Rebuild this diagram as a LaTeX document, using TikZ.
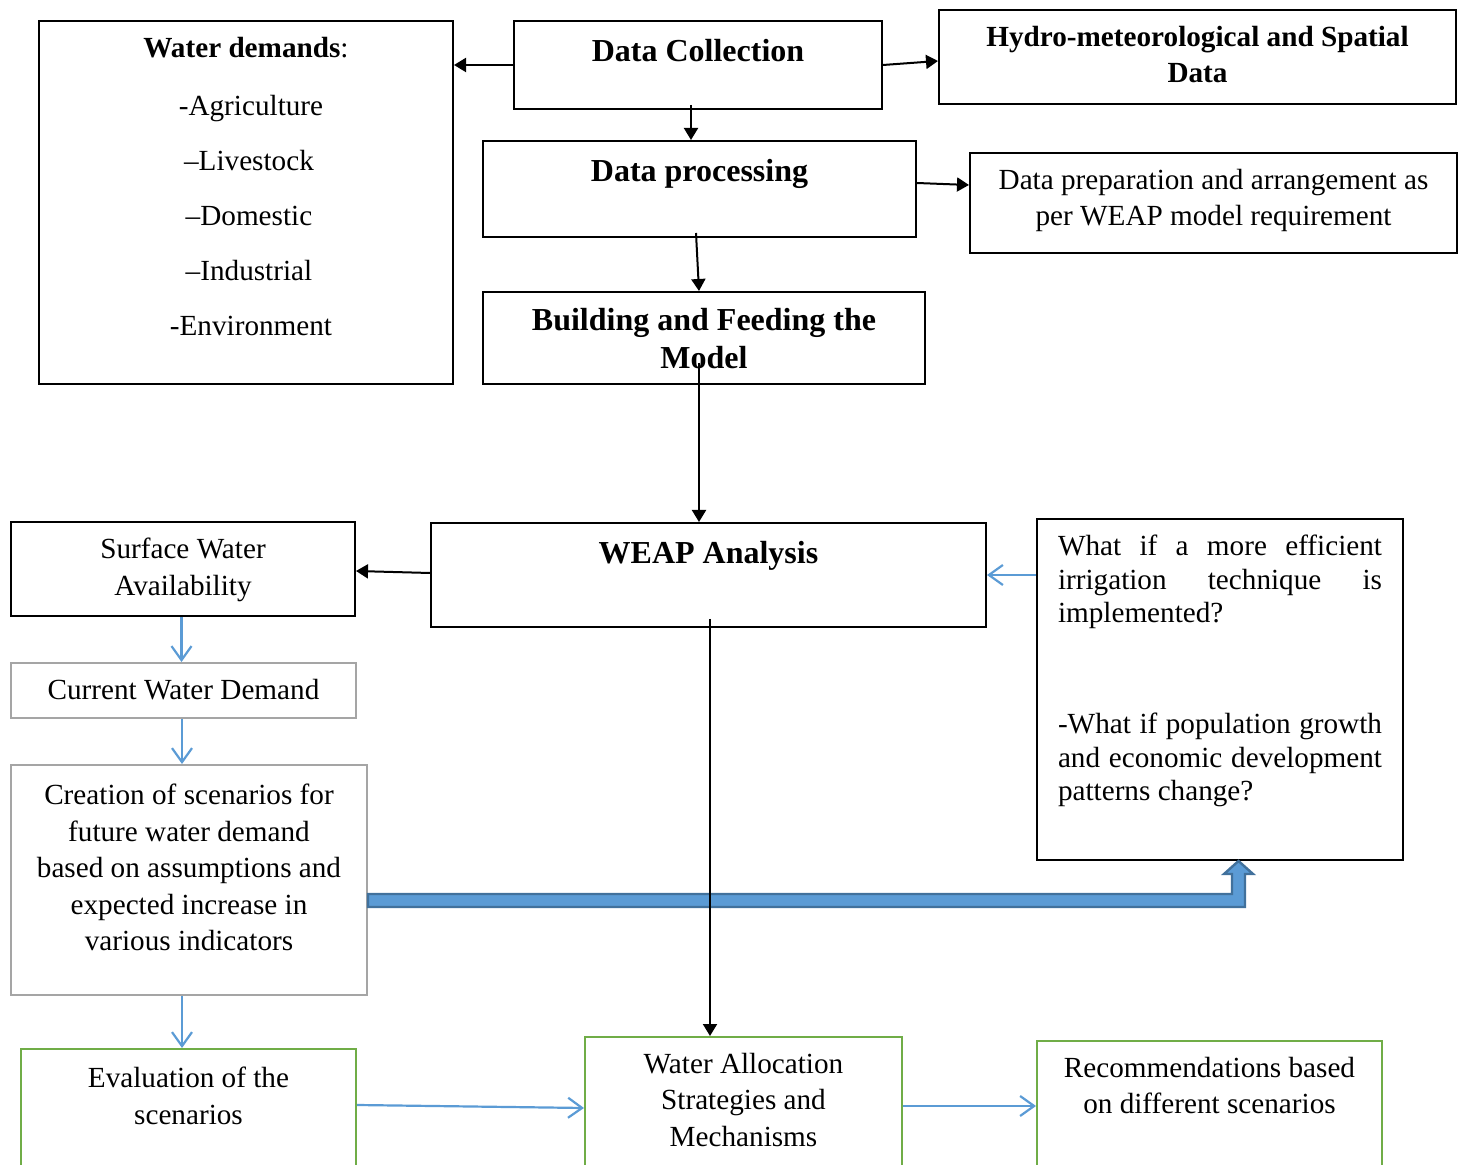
\documentclass[tikz,border=0pt]{standalone}
\usepackage{fontspec}
\setmainfont{Liberation Serif}
\usepackage{xcolor}
\usepackage{tikz}
\usetikzlibrary{arrows.meta, calc, positioning}

\definecolor{linkblue}{HTML}{5B9BD5}
\definecolor{darkblue}{HTML}{41719C}
\definecolor{boxgray}{HTML}{A5A5A5}
\definecolor{boxgreen}{HTML}{70AD47}

\newcommand{\headfont}{\fontsize{16}{19}\selectfont\bfseries}

\begin{document}
\begin{tikzpicture}[
    x=0.5pt, y=-0.5pt,
    box/.style={draw, line width=1pt, anchor=north west, inner xsep=0pt, inner ysep=8pt, font=\fontsize{14.6}{18.3}\selectfont},
    graybox/.style={box, draw=boxgray},
    greenbox/.style={box, draw=boxgreen},
    arrow/.style={-{Triangle[length=6pt, width=7pt]}, line width=1pt},
    bluearrow/.style={-{Straight Barb[length=7pt, width=10pt]}, line width=1.1pt, linkblue},
    bigarrow/.style={fill=linkblue, draw=darkblue, line width=1.2pt}
]
    \useasboundingbox (0,0) rectangle (1463,1165);
    \clip (0,0) rectangle (1463,1165);

    % Collection and processing
    \node[box] (demands) at (38,20) {\parbox[t][165.5pt][t]{207pt}{\centering\textbf{Water demands}:\\[10.7pt] \hspace*{5pt}-Agriculture\\[9.2pt] \hspace*{3pt}\textendash Livestock\\[9.2pt] \hspace*{3pt}\textendash Domestic\\[9.2pt] \hspace*{3pt}\textendash Industrial\\[9.2pt] \hspace*{5pt}-Environment}};
    \node[box] (collect) at (513,20) {\parbox[t][28pt][t]{184pt}{\centering\headfont\vspace*{1pt}Data Collection}};
    \node[box] (hydro) at (938,9) {\parbox[t][31pt][t]{258.5pt}{\centering\bfseries Hydro-meteorological and Spatial\\Data}};
    \node[box] (process) at (482,140) {\parbox[t][32pt][t]{216.5pt}{\centering\headfont\vspace*{1pt}Data processing}};
    \node[box] (prep) at (969,152) {\parbox[t][34pt][t]{243.5pt}{\centering Data preparation and arrangement as\\per WEAP model requirement}};
    \node[box] (build) at (482,291) {\parbox[t][30pt][t]{221pt}{\centering\headfont Building and Feeding the\\Model}};

    % Analysis
    \node[box] (weap) at (430,522) {\parbox[t][36pt][t]{277.5pt}{\centering\headfont\vspace*{1pt}WEAP Analysis}};
    \node[box] (surface) at (10,521) {\parbox[t][31pt][t]{172pt}{\centering Surface Water\\Availability}};
    \node[graybox] (current) at (10,662) {\parbox[t][11.5pt][t]{172.5pt}{\centering Current Water Demand}};
    \node[graybox] (creation) at (10,764) {\parbox[t][99pt][t]{178pt}{\centering\vspace*{1.5pt}Creation of scenarios for\\future water demand\\based on assumptions and\\expected increase in\\various indicators}};
    \node[box, inner xsep=10.5pt] (whatif) at (1036,518) {\parbox[t][154.5pt][t]{162pt}{\fontsize{14.6}{16.75}\selectfont What if a more efficient\linebreak irrigation technique is\linebreak implemented?\\[38.75pt] -What if population growth\linebreak and economic development\linebreak patterns change?}};

    % Outcomes
    \node[greenbox] (eval) at (20,1048) {\parbox[t][50pt][t]{167.5pt}{\centering\vspace*{1pt}Evaluation of the\\scenarios}};
    \node[greenbox] (alloc) at (584,1036) {\parbox[t][56pt][t]{158.5pt}{\centering Water Allocation\\Strategies and\\Mechanisms}};
    \node[greenbox] (recom) at (1036,1040) {\parbox[t][54pt][t]{172.5pt}{\centering Recommendations based\\on different scenarios}};

    % Scenarios to questions
    \draw[bigarrow] ($(creation.east)+(0,14)$) -| ($(whatif.south)+(12,13)$) -- ++(-8,0) -- ($(whatif.south)+(18.5,0)$) -- ++(14.5,13) -- ++(-8,0) |- ($(creation.east)+(0,27)$) -- cycle;

    % Arrows
    \draw[arrow] (collect.west) -- (collect.west -| demands.east);
    \draw[arrow] (collect.east) -- ([yshift=-2pt]hydro.west);
    \draw[arrow] ([xshift=-3.5pt, yshift=2.5pt]collect.south) -- ([xshift=-3.5pt]collect.south |- process.north);
    \draw[arrow] ([yshift=3pt]process.east) -- ([yshift=9pt]prep.west);
    \draw[arrow] ([xshift=-1.75pt, yshift=2.5pt]process.south) -- ([xshift=-2.5pt]build.north);
    \draw[arrow] ([xshift=-2.5pt, yshift=11pt]build.south) -- ([xshift=-2.5pt]build.south |- weap.north);
    \draw[arrow] ([yshift=1pt]weap.west) -- ([yshift=-1pt]surface.east);
    \draw[arrow] ([xshift=0.75pt, yshift=4.5pt]weap.south) -- ([xshift=0.75pt]weap.south |- alloc.north);

    % Blue links
    \draw[bluearrow] (whatif.west |- weap.east) -- (weap.east);
    \draw[bluearrow] ([xshift=-0.75pt]surface.south) -- ([xshift=-0.75pt]surface.south |- current.north);
    \draw[bluearrow] ([xshift=-0.75pt]current.south) -- ([xshift=-0.75pt]current.south |- creation.north);
    \draw[bluearrow] ([xshift=-3.5pt]creation.south) -- ([xshift=-3.5pt]creation.south |- eval.north);
    \draw[bluearrow] ([yshift=-28.5pt]eval.north east) -- ([yshift=-36pt]alloc.north west);
    \draw[bluearrow] ([yshift=-35pt]alloc.north east) -- ([yshift=-35pt]alloc.north east -| recom.west);

\end{tikzpicture}
\end{document}
